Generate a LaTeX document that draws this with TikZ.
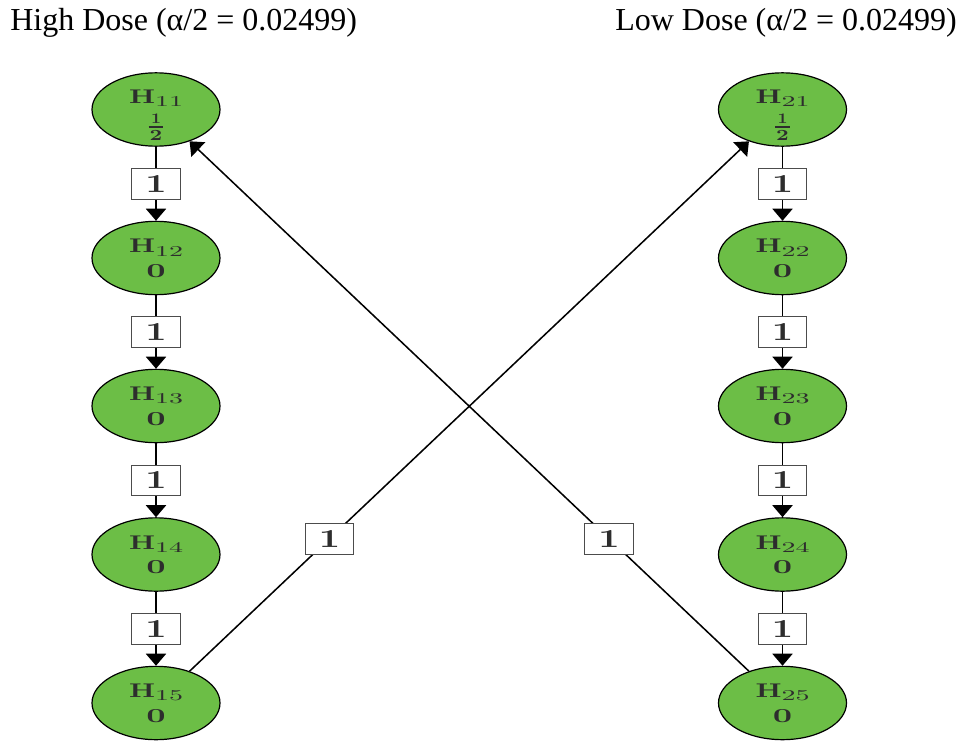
\documentclass[tikz,border=0pt]{standalone}
\usepackage{fontspec}
\usetikzlibrary{shapes.geometric,arrows.meta}
\newfontfamily\titlefont{Liberation Serif}
\newcommand{\hnm}[1]{\resizebox{19.5pt}{10.2pt}{\bfseries H}\raisebox{-2.5pt}{\resizebox{21pt}{7.5pt}{\mdseries #1}}}
\newcommand{\zerowt}{\resizebox{14.5pt}{9.75pt}{\bfseries 0}}
\newcommand{\halfwt}{\vbox{\offinterlineskip\hbox to 11pt{\hss\resizebox{7.5pt}{7.2pt}{\bfseries 1}\hss}\kern2pt\hrule height 1.5pt\kern1.8pt\hbox to 11pt{\hss\resizebox{9.5pt}{7.6pt}{\bfseries 2}\hss}}}
\newcommand{\nodetxt}[4]{\raisebox{-#1}[0pt][0pt]{\vbox{\offinterlineskip\hbox to 0pt{\hss#2\hss}\kern#3\hbox to 0pt{\hss#4\hss}}}}
\newcommand{\onewt}{\resizebox{16pt}{12.75pt}{\bfseries 1}}
\definecolor{nodegreen}{RGB}{108,190,70}
\definecolor{txtgray}{RGB}{45,45,45}
\tikzset{
 hyp/.style={ellipse,draw=black,line width=0.9pt,fill=nodegreen,minimum width=96pt,minimum height=55pt,inner sep=0pt,text=txtgray},
 wlab/.style={rectangle,draw=black!70,fill=white,line width=0.6pt,minimum width=36.5pt,minimum height=23pt,inner sep=0pt,text=txtgray},
 conn/.style={line width=1.45pt,-{Triangle[width=15pt,length=9pt]}},
 titletext/.style={inner sep=0pt,font=\titlefont\fontsize{24}{28}\selectfont}
}
\begin{document}
\begin{tikzpicture}[x=0.75pt,y=-0.75pt]
\useasboundingbox (0,0) rectangle (966,742);
\node[titletext,anchor=base west] (t1) at (10,31) {High Dose (α/2 = 0.02499)};
\node[titletext,anchor=base east] (t2) at (957,31) {Low Dose (α/2 = 0.02499)};
\node[hyp] (h11) at (156,109.5) {\nodetxt{23.1pt}{\hnm{11}}{5pt}{\halfwt}};
\node[hyp] (h12) at (156,258) {\nodetxt{14.25pt}{\hnm{12}}{6pt}{\zerowt}};
\node[hyp] (h13) at (156,406) {\nodetxt{14.25pt}{\hnm{13}}{6pt}{\zerowt}};
\node[hyp] (h14) at (156,554.5) {\nodetxt{14.25pt}{\hnm{14}}{6pt}{\zerowt}};
\node[hyp] (h15) at (156,703) {\nodetxt{14.25pt}{\hnm{15}}{6pt}{\zerowt}};
\node[hyp] (h21) at (782.5,109.5) {\nodetxt{23.1pt}{\hnm{21}}{5pt}{\halfwt}};
\node[hyp] (h22) at (782.5,258) {\nodetxt{14.25pt}{\hnm{22}}{6pt}{\zerowt}};
\node[hyp] (h23) at (782.5,406) {\nodetxt{14.25pt}{\hnm{23}}{6pt}{\zerowt}};
\node[hyp] (h24) at (782.5,554.5) {\nodetxt{14.25pt}{\hnm{24}}{6pt}{\zerowt}};
\node[hyp] (h25) at (782.5,703) {\nodetxt{14.25pt}{\hnm{25}}{6pt}{\zerowt}};
\draw[conn] (h11) -- node[wlab]{\onewt} (h12);
\draw[conn] (h12) -- node[wlab]{\onewt} (h13);
\draw[conn] (h13) -- node[wlab]{\onewt} (h14);
\draw[conn] (h14) -- node[wlab]{\onewt} (h15);
\draw[conn] (h21) -- node[wlab]{\onewt} (h22);
\draw[conn] (h22) -- node[wlab]{\onewt} (h23);
\draw[conn] (h23) -- node[wlab]{\onewt} (h24);
\draw[conn] (h24) -- node[wlab]{\onewt} (h25);
\draw[conn,line width=1.15pt] (h15) -- node[wlab,pos=0.25]{\onewt} (h21);
\draw[conn,line width=1.15pt] (h25) -- node[wlab,pos=0.25]{\onewt} (h11);
\end{tikzpicture}
\end{document}
